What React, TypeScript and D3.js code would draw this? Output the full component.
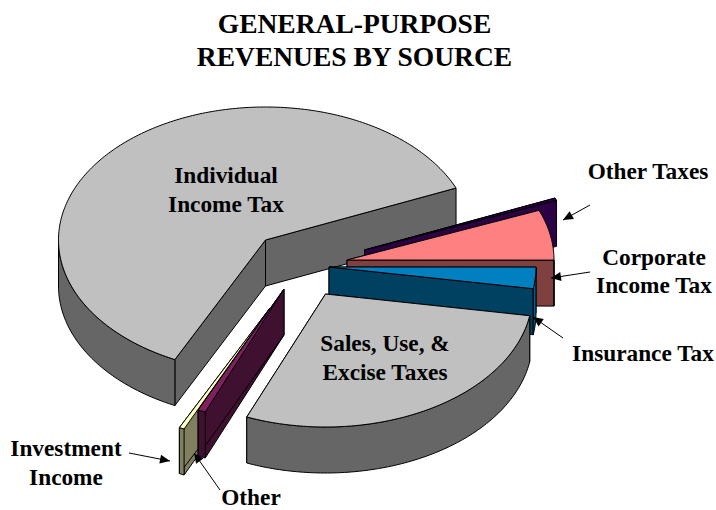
import React, { useEffect, useRef } from "react";
import * as d3 from "d3";

const sources = ["Other Taxes", "Corporate Income Tax", "Insurance Tax", "Sales, Use, & Excise Taxes", "Other", "Investment Income", "Individual Income Tax"];
const shares = [0.3, 6.1, 2.6, 28.6, 0.6, 0.4, 61.4];
const topColors = ["#2c0044", "#ff8080", "#0080c0", "#c0c0c0", "#802060", "#ffffc0", "#c0c0c0"];
const wallColors = ["#2c0044", "#804040", "#004060", "#666666", "#401030", "#808060", "#666666"];
const sideColors = ["#2c0044", "#804040", "#005c8a", "#666666", "#401030", "#808060", "#666666"];

// where each exploded slice has been pulled to
const centerX = [364.5, 347, 329, 325.5, 284, 270, 265.5];
const centerY = [250, 260, 267, 294, 289, 308, 240];
const drawOrder = [6, 0, 1, 2, 3, 5, 4];

const labels = [
  { text: "GENERAL-PURPOSE", x: 354.5, y: 33, size: 27.5 },
  { text: "REVENUES BY SOURCE", x: 354.5, y: 66, size: 27.5 },
  { text: "Individual", x: 226, y: 183, size: 23.3 },
  { text: "Income Tax", x: 226, y: 212, size: 23.3 },
  { text: "Sales, Use, &", x: 385, y: 351, size: 23.3 },
  { text: "Excise Taxes", x: 385, y: 380, size: 23.3 },
  { text: "Other Taxes", x: 648, y: 179, size: 23.3 },
  { text: "Corporate", x: 654, y: 265, size: 23.3 },
  { text: "Income Tax", x: 654, y: 293, size: 23.3 },
  { text: "Insurance Tax", x: 643, y: 361, size: 23.3 },
  { text: "Investment", x: 66, y: 456, size: 23.3 },
  { text: "Income", x: 66, y: 485, size: 23.3 },
  { text: "Other", x: 251, y: 504.9, size: 23.3 },
];

const arrows = [
  { from: [590, 205], to: [563, 220] },
  { from: [590, 272], to: [551, 278] },
  { from: [563, 338], to: [533, 317] },
  { from: [129, 453], to: [170, 461] },
  { from: [220, 490], to: [194, 453] },
];

const rx = 207;
const ry = 133;
const depth = 46;

const App = () => {
  const chartRef = useRef<SVGSVGElement>(null);

  useEffect(() => {
    const svg = d3.select(chartRef.current);
    svg.selectAll("*").remove();

    const startAngle = (67 * Math.PI) / 180;
    const arcs = d3.pie<number>().sort(null).startAngle(startAngle).endAngle(startAngle + 2 * Math.PI)(shares);

    const line = d3.line();
    const project = (i: number, a: number, drop = 0): [number, number] => [
      centerX[i] + rx * Math.sin(a),
      centerY[i] - ry * Math.cos(a) + drop,
    ];
    const sweep = (a0: number, a1: number) => {
      const n = Math.max(2, Math.ceil(Math.abs(a1 - a0) * 60));
      return d3.range(n + 1).map((k) => a0 + ((a1 - a0) * k) / n);
    };
    const draw = (d: string | null, fill: string) =>
      svg.append("path")
        .attr("d", d)
        .attr("fill", fill)
        .attr("stroke", "#000")
        .attr("stroke-width", 1)
        .attr("stroke-linejoin", "round");

    drawOrder.forEach((i) => {
      const { startAngle: a0, endAngle: a1 } = arcs[i];
      const center: [number, number] = [centerX[i], centerY[i]];
      const below: [number, number] = [centerX[i], centerY[i] + depth];

      // radial walls, the top face covers whichever of them face away
      [a0, a1].forEach((a) => {
        draw(line([center, project(i, a), project(i, a, depth), below]) + "Z", wallColors[i]);
      });

      // outer rim, only the front half of the ellipse can be seen
      for (const turn of [0, 2 * Math.PI]) {
        const from = Math.max(a0, Math.PI / 2 + turn);
        const to = Math.min(a1, 1.5 * Math.PI + turn);
        if (from < to) {
          const top = sweep(from, to).map((a) => project(i, a));
          const bottom = sweep(to, from).map((a) => project(i, a, depth));
          draw(line([...top, ...bottom]) + "Z", sideColors[i]);
        }
      }

      const face = sweep(a0, a1).map((a) => project(i, a));
      draw(line([center, ...face]) + "Z", topColors[i]);
    });

    // arrows
    arrows.forEach(({ from, to }) => {
      svg.append("line")
        .attr("x1", from[0]).attr("y1", from[1])
        .attr("x2", to[0]).attr("y2", to[1])
        .attr("stroke", "#000");
      const angle = Math.atan2(to[1] - from[1], to[0] - from[0]);
      const head = [0, 4.5, -4.5].map((off, k) => {
        const len = k === 0 ? 0 : 10;
        return [
          to[0] - len * Math.cos(angle) - off * Math.sin(angle),
          to[1] - len * Math.sin(angle) + off * Math.cos(angle),
        ] as [number, number];
      });
      svg.append("path").attr("d", line(head) + "Z").attr("fill", "#000");
    });

    svg.selectAll("text.label")
      .data(labels)
      .enter().append("text")
      .attr("class", "label")
      .attr("x", (d) => d.x)
      .attr("y", (d) => d.y)
      .attr("text-anchor", "middle")
      .attr("font-family", "'Liberation Serif', serif")
      .attr("font-weight", "bold")
      .attr("font-size", (d) => d.size)
      .text((d) => d.text);
  }, []);

  return (
    <svg
      ref={chartRef}
      width={716}
      height={510}
      style={{ position: "absolute", left: 0, top: 0, background: "#fff" }}
    />
  );
};

export default App;
